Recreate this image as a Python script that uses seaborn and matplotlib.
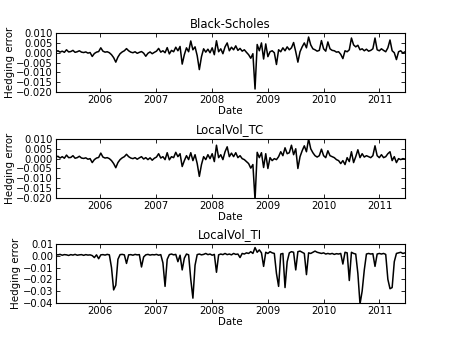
import numpy as np
import pandas as pd
import matplotlib
matplotlib.use("Agg")
import matplotlib.pyplot as plt
import matplotlib.dates as mdates
import seaborn as sns

# Hedging errors, every 14 days (units of 1e-3)
start_date = "2005-03-18"

bs_err = [
    0.5, 1.0, 0.3, 0.8, 0.2, 1.5, 0.4, 0.6, 1.2, 0.2, 0.5, 1.0, 0.3, 0.1, 0.4, -0.2, 0.1, -1.9, -0.4, 0.3, 0.6,
    2.5, 0.8, 0.3, 0.5, 0.0, -1.0, -2.5, -4.8, -2.2, -0.5, 0.4, 1.0, 2.1, 1.0, 0.3, 0.0, 0.5, -0.3, 0.2, 0.6, -0.2, -1.8, -0.3, 0.4, -0.5, 0.2,
    0.8, 2.2, 0.3, 1.0, 0.0, 2.6, -0.6, 1.2, 0.5, 2.8, 1.0, 3.2, -5.8, -1.0, 2.5, 0.5, 6.0, 1.5, 3.0, -1.5, -8.6, -2.0, 2.0, 0.3, 1.8, 0.0,
    2.5, -1.0, 6.1, 0.5, 2.0, -0.5, 3.0, 5.0, 1.0, 2.8, 1.5, 3.5, 1.2, 2.2, 0.8, 1.5, 0.2, -1.0, -2.8, -0.5, -18.5, 4.2, 1.0, 5.0, -3.2, 4.5,
    -2.0, 0.5, 1.0, 0.0, -6.0, 1.5, 0.5, 2.5, 1.0, 3.0, 1.5, 2.5, 5.2, 0.5, -4.8, 0.5, 3.0, 5.0, 2.5, 8.0, 4.0, 2.0, 1.5, 0.8, 1.2, 6.2,
    2.0, 0.8, 5.5, 2.0, 1.2, 1.0, 0.3, 0.5, -0.8, -3.0, 1.0, 0.5, 1.5, 7.5, 4.0, 3.0, 3.8, 1.5, 2.0, 1.0, 1.8, 0.8, 1.2, 2.0, 7.5, 1.5, 1.0,
    2.0, 1.2, 0.5, 2.5, 6.5, 1.0, 0.0, -3.5, 0.5, 1.0, -0.2, 0.5,
]

tc_err = [
    0.8, 1.2, 0.3, 1.0, 0.2, 1.8, 0.5, 0.6, 1.5, 0.2, 0.5, 1.2, 0.3, 0.1, 0.4, -0.3, 0.0, -2.0, -0.5, 0.3, 0.6,
    2.8, 0.8, 0.3, 0.5, 0.0, -1.0, -2.5, -4.6, -2.0, -0.5, 0.4, 1.0, 2.2, 1.0, 0.3, 0.0, 0.5, -0.3, 0.4, 1.0, -0.2, 0.5, -0.5, 0.4, -0.8, 0.2,
    0.8, 2.5, 0.3, 1.0, -0.5, 3.0, -0.6, 1.0, 0.5, 3.2, 1.0, 2.5, -4.0, -1.0, 1.5, -0.5, 3.0, -1.0, 2.0, -2.5, -9.0, -3.0, 1.0, -0.5, 2.0, 0.0,
    2.5, -1.5, 6.8, 0.5, 2.0, -0.5, 3.5, 6.0, 1.0, 2.8, 1.0, 3.0, 0.5, 1.5, 0.0, -0.5, -1.5, -2.5, -4.8, -3.0, -21.0, 3.2, 0.5, 3.0, -4.5, 2.5,
    -5.0, 0.5, -1.0, 0.0, -0.5, 1.0, 3.5, 1.5, 5.5, 2.5, 3.0, 6.8, 2.0, 5.0, -5.0, 1.0, 4.0, 6.5, 3.5, 10.0, 5.0, 3.0, 1.5, 0.8, 1.5, 4.8,
    1.5, 0.5, 4.0, 1.5, 1.0, 0.5, -0.5, -1.0, -2.5, -1.0, -3.0, 0.5, -1.5, 3.5, -2.0, 1.0, 4.5, 0.5, 2.5, 0.8, 1.5, 1.0, 0.5, 1.5, 6.5, 1.5, 0.5,
    2.0, 0.5, 1.0, 2.5, 3.5, -1.0, 1.0, -2.0, 0.0, -0.5, 0.0, -0.2,
]

ti_err = [
    1.0, 0.8, 1.2, 0.5, 1.0, 0.8, 0.3, 1.0, 0.6, 1.2, 0.5, 0.8, 1.0, 0.4, 1.0, 0.6, 0.8, 0.2, -1.5, 0.8, -2.5,
    0.8, 1.0, 0.6, 1.2, 0.8, -10.0, -29.0, -25.0, -3.0, 1.0, 1.2, 0.8, -6.5, 0.8, 1.0, 0.5, 1.2, 0.8, 1.0, -9.5, -1.0, 0.8, 1.2, 0.6, 1.0, 0.8,
    1.2, 0.5, 1.0, -6.0, -26.0, -3.0, 1.0, 1.5, 0.8, 1.2, -5.0, 0.5, -12.0, -2.0, 1.5, 0.8, -20.0, -36.0, -8.0, 1.0, 1.5, 0.8, 1.2, 2.0, 1.0, 1.5,
    0.5, 1.2, -14.0, 0.8, 1.5, 1.0, 2.0, 1.0, 1.5, 0.8, 2.0, 1.2, 1.5, -1.5, 2.0, 1.5, 2.5, 2.0, 3.5, 2.0, 7.0, 3.0, 5.0, 2.5, -9.0, 3.0,
    2.0, 3.5, 2.5, 2.0, -15.0, -26.0, 1.5, 2.0, -27.0, -5.0, 2.5, 3.5, 3.0, -12.0, 3.5, 4.0, 3.0, 2.0, -16.0, 2.5, 2.0, 3.0, 4.0, 3.0, 2.5, 2.0,
    2.5, 1.5, 2.0, 1.5, 2.0, 1.2, 1.8, 1.5, 2.0, -7.0, 3.0, 2.5, -21.0, 3.0, 2.0, 1.5, -15.0, -41.0, -30.0, -12.0, 1.5, 2.0, 1.5, 1.8, -9.0, 1.5, 2.0,
    1.5, 2.0, 1.2, -20.0, -28.0, -27.0, -5.0, 2.0, 2.5, 3.0, 2.0, 2.5,
]

titles = ["Black-Scholes", "LocalVol_TC", "LocalVol_TI"]
ylims = [(-0.020, 0.010), (-0.020, 0.010), (-0.04, 0.01)]
ysteps = [0.005, 0.005, 0.01]
yfmts = ["{:.3f}", "{:.3f}", "{:.2f}"]

sns.set_theme(style="ticks", rc={
    "xtick.direction": "in", "ytick.direction": "in",
    "axes.edgecolor": "black", "text.color": "black",
    "axes.labelcolor": "black", "xtick.color": "black", "ytick.color": "black",
    "axes.linewidth": 0.8,
})
plt.rcParams["font.family"] = ["DejaVu Sans"]

fig = plt.figure(figsize=(4.5, 3.38), dpi=100)
boxes = [(0.124, 0.728, 0.776, 0.174), (0.124, 0.414, 0.776, 0.175), (0.124, 0.104, 0.776, 0.174)]

for k, series in enumerate([bs_err, tc_err, ti_err]):
    df = pd.DataFrame({
        "Date": pd.date_range(start_date, periods=len(series), freq="14D"),
        "err": np.array(series) * 1e-3,
    })
    ax = fig.add_axes(boxes[k])
    sns.lineplot(data=df, x="Date", y="err", ax=ax, color="black", linewidth=1.1)
    ax.set_xlim(df["Date"].min(), df["Date"].max())
    lo, hi = ylims[k]
    ax.set_ylim(lo, hi)
    yt = np.arange(lo, hi + ysteps[k] / 2, ysteps[k])
    ax.set_yticks(yt)
    ax.set_yticklabels([yfmts[k].format(v).replace("-", "\u2212") for v in yt])
    ax.xaxis.set_major_locator(mdates.YearLocator())
    ax.xaxis.set_major_formatter(mdates.DateFormatter("%Y"))
    ax.tick_params(top=True, right=True, labelsize=7.2, length=3, width=0.6, pad=2)
    ax.set_title(titles[k], fontsize=8.4, pad=4)
    ax.set_xlabel("Date", fontsize=7.4, labelpad=1)
    ax.set_ylabel("Hedging error", fontsize=7.4, labelpad=1)

fig.savefig("out.png", dpi=100)
